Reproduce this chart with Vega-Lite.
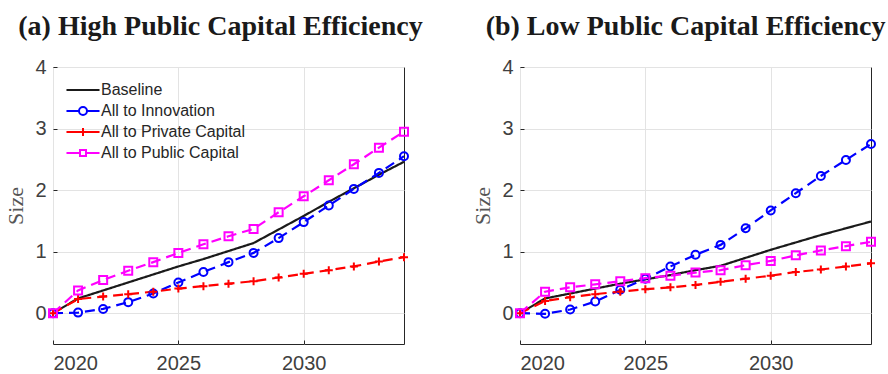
{
  "$schema": "https://vega.github.io/schema/vega-lite/v6.json",
  "padding": {"left": 4, "top": 12, "right": 5, "bottom": 0},
  "datasets": {
    "d": [
      {"p":"a","s":"Baseline","t":2020,"v":0},{"p":"a","s":"Baseline","t":2021,"v":0.24},{"p":"a","s":"Baseline","t":2022,"v":0.37},{"p":"a","s":"Baseline","t":2023,"v":0.50},{"p":"a","s":"Baseline","t":2024,"v":0.63},{"p":"a","s":"Baseline","t":2025,"v":0.76},{"p":"a","s":"Baseline","t":2026,"v":0.88},{"p":"a","s":"Baseline","t":2027,"v":1.01},{"p":"a","s":"Baseline","t":2028,"v":1.14},{"p":"a","s":"Baseline","t":2029,"v":1.36},{"p":"a","s":"Baseline","t":2030,"v":1.58},{"p":"a","s":"Baseline","t":2031,"v":1.81},{"p":"a","s":"Baseline","t":2032,"v":2.03},{"p":"a","s":"Baseline","t":2033,"v":2.25},{"p":"a","s":"Baseline","t":2034,"v":2.46},
      {"p":"a","s":"All to Innovation","t":2020,"v":0},{"p":"a","s":"All to Innovation","t":2021,"v":0.01},{"p":"a","s":"All to Innovation","t":2022,"v":0.07},{"p":"a","s":"All to Innovation","t":2023,"v":0.18},{"p":"a","s":"All to Innovation","t":2024,"v":0.32},{"p":"a","s":"All to Innovation","t":2025,"v":0.50},{"p":"a","s":"All to Innovation","t":2026,"v":0.67},{"p":"a","s":"All to Innovation","t":2027,"v":0.83},{"p":"a","s":"All to Innovation","t":2028,"v":0.98},{"p":"a","s":"All to Innovation","t":2029,"v":1.22},{"p":"a","s":"All to Innovation","t":2030,"v":1.48},{"p":"a","s":"All to Innovation","t":2031,"v":1.75},{"p":"a","s":"All to Innovation","t":2032,"v":2.02},{"p":"a","s":"All to Innovation","t":2033,"v":2.28},{"p":"a","s":"All to Innovation","t":2034,"v":2.55},
      {"p":"a","s":"All to Private Capital","t":2020,"v":0},{"p":"a","s":"All to Private Capital","t":2021,"v":0.23},{"p":"a","s":"All to Private Capital","t":2022,"v":0.27},{"p":"a","s":"All to Private Capital","t":2023,"v":0.31},{"p":"a","s":"All to Private Capital","t":2024,"v":0.35},{"p":"a","s":"All to Private Capital","t":2025,"v":0.40},{"p":"a","s":"All to Private Capital","t":2026,"v":0.44},{"p":"a","s":"All to Private Capital","t":2027,"v":0.48},{"p":"a","s":"All to Private Capital","t":2028,"v":0.52},{"p":"a","s":"All to Private Capital","t":2029,"v":0.58},{"p":"a","s":"All to Private Capital","t":2030,"v":0.64},{"p":"a","s":"All to Private Capital","t":2031,"v":0.70},{"p":"a","s":"All to Private Capital","t":2032,"v":0.76},{"p":"a","s":"All to Private Capital","t":2033,"v":0.84},{"p":"a","s":"All to Private Capital","t":2034,"v":0.91},
      {"p":"a","s":"All to Public Capital","t":2020,"v":0},{"p":"a","s":"All to Public Capital","t":2021,"v":0.37},{"p":"a","s":"All to Public Capital","t":2022,"v":0.54},{"p":"a","s":"All to Public Capital","t":2023,"v":0.69},{"p":"a","s":"All to Public Capital","t":2024,"v":0.83},{"p":"a","s":"All to Public Capital","t":2025,"v":0.98},{"p":"a","s":"All to Public Capital","t":2026,"v":1.12},{"p":"a","s":"All to Public Capital","t":2027,"v":1.25},{"p":"a","s":"All to Public Capital","t":2028,"v":1.37},{"p":"a","s":"All to Public Capital","t":2029,"v":1.64},{"p":"a","s":"All to Public Capital","t":2030,"v":1.90},{"p":"a","s":"All to Public Capital","t":2031,"v":2.16},{"p":"a","s":"All to Public Capital","t":2032,"v":2.42},{"p":"a","s":"All to Public Capital","t":2033,"v":2.69},{"p":"a","s":"All to Public Capital","t":2034,"v":2.95},
      {"p":"b","s":"Baseline","t":2020,"v":0},{"p":"b","s":"Baseline","t":2021,"v":0.24},{"p":"b","s":"Baseline","t":2022,"v":0.32},{"p":"b","s":"Baseline","t":2023,"v":0.40},{"p":"b","s":"Baseline","t":2024,"v":0.48},{"p":"b","s":"Baseline","t":2025,"v":0.55},{"p":"b","s":"Baseline","t":2026,"v":0.62},{"p":"b","s":"Baseline","t":2027,"v":0.70},{"p":"b","s":"Baseline","t":2028,"v":0.77},{"p":"b","s":"Baseline","t":2029,"v":0.90},{"p":"b","s":"Baseline","t":2030,"v":1.03},{"p":"b","s":"Baseline","t":2031,"v":1.15},{"p":"b","s":"Baseline","t":2032,"v":1.27},{"p":"b","s":"Baseline","t":2033,"v":1.38},{"p":"b","s":"Baseline","t":2034,"v":1.49},
      {"p":"b","s":"All to Innovation","t":2020,"v":0},{"p":"b","s":"All to Innovation","t":2021,"v":-0.01},{"p":"b","s":"All to Innovation","t":2022,"v":0.06},{"p":"b","s":"All to Innovation","t":2023,"v":0.19},{"p":"b","s":"All to Innovation","t":2024,"v":0.38},{"p":"b","s":"All to Innovation","t":2025,"v":0.56},{"p":"b","s":"All to Innovation","t":2026,"v":0.76},{"p":"b","s":"All to Innovation","t":2027,"v":0.95},{"p":"b","s":"All to Innovation","t":2028,"v":1.11},{"p":"b","s":"All to Innovation","t":2029,"v":1.38},{"p":"b","s":"All to Innovation","t":2030,"v":1.67},{"p":"b","s":"All to Innovation","t":2031,"v":1.95},{"p":"b","s":"All to Innovation","t":2032,"v":2.23},{"p":"b","s":"All to Innovation","t":2033,"v":2.49},{"p":"b","s":"All to Innovation","t":2034,"v":2.75},
      {"p":"b","s":"All to Private Capital","t":2020,"v":0},{"p":"b","s":"All to Private Capital","t":2021,"v":0.20},{"p":"b","s":"All to Private Capital","t":2022,"v":0.26},{"p":"b","s":"All to Private Capital","t":2023,"v":0.31},{"p":"b","s":"All to Private Capital","t":2024,"v":0.35},{"p":"b","s":"All to Private Capital","t":2025,"v":0.39},{"p":"b","s":"All to Private Capital","t":2026,"v":0.42},{"p":"b","s":"All to Private Capital","t":2027,"v":0.46},{"p":"b","s":"All to Private Capital","t":2028,"v":0.51},{"p":"b","s":"All to Private Capital","t":2029,"v":0.56},{"p":"b","s":"All to Private Capital","t":2030,"v":0.61},{"p":"b","s":"All to Private Capital","t":2031,"v":0.67},{"p":"b","s":"All to Private Capital","t":2032,"v":0.71},{"p":"b","s":"All to Private Capital","t":2033,"v":0.76},{"p":"b","s":"All to Private Capital","t":2034,"v":0.81},
      {"p":"b","s":"All to Public Capital","t":2020,"v":0},{"p":"b","s":"All to Public Capital","t":2021,"v":0.35},{"p":"b","s":"All to Public Capital","t":2022,"v":0.42},{"p":"b","s":"All to Public Capital","t":2023,"v":0.47},{"p":"b","s":"All to Public Capital","t":2024,"v":0.52},{"p":"b","s":"All to Public Capital","t":2025,"v":0.57},{"p":"b","s":"All to Public Capital","t":2026,"v":0.61},{"p":"b","s":"All to Public Capital","t":2027,"v":0.66},{"p":"b","s":"All to Public Capital","t":2028,"v":0.70},{"p":"b","s":"All to Public Capital","t":2029,"v":0.78},{"p":"b","s":"All to Public Capital","t":2030,"v":0.85},{"p":"b","s":"All to Public Capital","t":2031,"v":0.94},{"p":"b","s":"All to Public Capital","t":2032,"v":1.02},{"p":"b","s":"All to Public Capital","t":2033,"v":1.09},{"p":"b","s":"All to Public Capital","t":2034,"v":1.16}
    ]
  },
  "spacing": 47,
  "resolve": {"legend": {"color": "independent"}},
  "hconcat": [
    {
      "width": 351, "height": 277,
      "title": {"text": "(a) High Public Capital Efficiency", "dx": -8},
      "data": {"name": "d"},
      "transform": [{"filter": "datum.p === 'a'"}],
      "layer": [
        {
          "mark": {"type": "line", "strokeWidth": 2.2, "clip": true},
          "encoding": {
            "x": {"field": "t", "type": "quantitative", "scale": {"domain": [2020, 2034], "nice": false, "zero": false}, "axis": {"values": [2020, 2025, 2030], "format": "d", "title": null}},
            "y": {"field": "v", "type": "quantitative", "scale": {"domain": [-0.5, 4], "nice": false}, "axis": {"values": [0, 1, 2, 3, 4], "format": "d", "title": "Size"}},
            "color": {"field": "s", "type": "nominal", "sort": null,
              "scale": {"domain": ["Baseline", "All to Innovation", "All to Private Capital", "All to Public Capital"], "range": ["#1a1a1a", "#0000ff", "#ff0000", "#ff00ff"]},
              "legend": {
                "title": null, "orient": "none", "legendX": 22, "legendY": 15,
                "labelFont": "Liberation Sans", "labelFontSize": 16, "labelColor": "#262626", "labelOffset": 10,
                "symbolSize": 196, "symbolStrokeWidth": 2, "rowPadding": 5,
                "encode": {"symbols": {"update": {
                  "shape": {"signal": "datum.value === 'Baseline' ? 'M-2.36,0H2.36' : datum.value === 'All to Innovation' ? 'M-2.36,0H-0.62M0.62,0H2.36M0.57,0A0.57,0.57 0 1,1 -0.57,0A0.57,0.57 0 1,1 0.57,0' : datum.value === 'All to Private Capital' ? 'M-2.36,0H2.36M0,-0.57V0.57' : 'M-2.36,0H-0.5M0.5,0H2.36M-0.43,-0.43H0.43V0.43H-0.43Z'"},
                  "fill": {"value": "transparent"},
                  "strokeDash": {"value": []},
                  "strokeWidth": {"value": 2},
                  "opacity": {"value": 1}
                }}}
              }},
            "strokeDash": {"field": "s", "type": "nominal", "legend": null,
              "scale": {"domain": ["Baseline", "All to Innovation", "All to Private Capital", "All to Public Capital"], "range": [[1, 0], [10, 6], [10, 6], [10, 6]]}}
          }
        },
        {
          "transform": [{"filter": "datum.s !== 'Baseline'"}],
          "mark": {"type": "point", "filled": false, "strokeWidth": 2, "opacity": 1},
          "encoding": {
            "x": {"field": "t", "type": "quantitative"},
            "y": {"field": "v", "type": "quantitative"},
            "color": {"field": "s", "type": "nominal"},
            "shape": {"field": "s", "type": "nominal", "legend": null,
              "scale": {"domain": ["All to Innovation", "All to Private Capital", "All to Public Capital"], "range": ["circle", "M-1,0H1M0,-1V1", "square"]}},
            "size": {"field": "s", "type": "nominal", "legend": null,
              "scale": {"domain": ["All to Innovation", "All to Private Capital", "All to Public Capital"], "range": [64, 64, 36]}}
          }
        }
      ]
    },
    {
      "width": 351, "height": 277,
      "title": {"text": "(b) Low Public Capital Efficiency", "dx": -10},
      "data": {"name": "d"},
      "transform": [{"filter": "datum.p === 'b'"}],
      "layer": [
        {
          "mark": {"type": "line", "strokeWidth": 2.2, "clip": true},
          "encoding": {
            "x": {"field": "t", "type": "quantitative", "scale": {"domain": [2020, 2034], "nice": false, "zero": false}, "axis": {"values": [2020, 2025, 2030], "format": "d", "title": null}},
            "y": {"field": "v", "type": "quantitative", "scale": {"domain": [-0.5, 4], "nice": false}, "axis": {"values": [0, 1, 2, 3, 4], "format": "d", "title": "Size"}},
            "color": {"field": "s", "type": "nominal", "legend": null,
              "scale": {"domain": ["Baseline", "All to Innovation", "All to Private Capital", "All to Public Capital"], "range": ["#1a1a1a", "#0000ff", "#ff0000", "#ff00ff"]}},
            "strokeDash": {"field": "s", "type": "nominal", "legend": null,
              "scale": {"domain": ["Baseline", "All to Innovation", "All to Private Capital", "All to Public Capital"], "range": [[1, 0], [10, 6], [10, 6], [10, 6]]}}
          }
        },
        {
          "transform": [{"filter": "datum.s !== 'Baseline'"}],
          "mark": {"type": "point", "filled": false, "strokeWidth": 2, "opacity": 1},
          "encoding": {
            "x": {"field": "t", "type": "quantitative"},
            "y": {"field": "v", "type": "quantitative"},
            "color": {"field": "s", "type": "nominal", "legend": null},
            "shape": {"field": "s", "type": "nominal", "legend": null,
              "scale": {"domain": ["All to Innovation", "All to Private Capital", "All to Public Capital"], "range": ["circle", "M-1,0H1M0,-1V1", "square"]}},
            "size": {"field": "s", "type": "nominal", "legend": null,
              "scale": {"domain": ["All to Innovation", "All to Private Capital", "All to Public Capital"], "range": [64, 64, 36]}}
          }
        }
      ]
    }
  ],
  "config": {
    "view": {"stroke": "#262626", "strokeWidth": 1},
    "axis": {
      "labelFont": "Liberation Sans", "labelFontSize": 20, "labelColor": "#404040",
      "gridColor": "#e3e3e3", "gridWidth": 1, "domain": false,
      "ticks": true, "tickSize": -4, "tickColor": "#262626", "tickWidth": 1,
      "titleFont": "Liberation Serif", "titleFontSize": 22, "titleFontWeight": "normal", "titleColor": "#555555"
    },
    "axisX": {"labelPadding": 13},
    "axisY": {"labelPadding": 11, "titlePadding": 7},
    "title": {"font": "Liberation Serif", "fontSize": 28, "fontWeight": "bold", "color": "#1a1a1a", "anchor": "middle", "baseline": "alphabetic", "offset": 16}
  }
}
